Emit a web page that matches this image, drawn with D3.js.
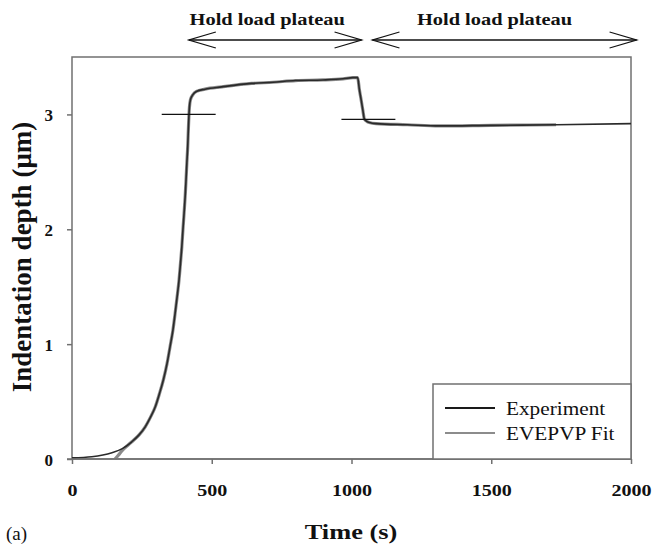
<!DOCTYPE html>
<meta charset="utf-8">
<html>
<head>
    <style>
        body { margin: 0; background: #fff; }
        .axis path, .axis line { stroke: #707070; stroke-width: 1.5px; }
        .axis text { font: bold 17px "Liberation Serif", serif; fill: #111; }
        .frame { fill: none; stroke: #707070; stroke-width: 1.5px; }
        .exp { fill: none; stroke: #2a2a2a; stroke-width: 1.6px; }
        .fit { fill: none; stroke: #8a8a8a; stroke-width: 3.2px; }
        .mark { stroke: #111; stroke-width: 1.2px; }
        .arrow { stroke: #111; stroke-width: 1.3px; fill: none; }
        .label { font-family: "Liberation Serif", serif; fill: #111; }
    </style>
    <script src="https://d3js.org/d3.v7.min.js"></script>
</head>
<body>
<svg id="svg" width="652" height="548"></svg>
<script>

    // experiment (s, um)
    var expTime = [0, 71, 143, 180, 214, 240, 262, 280, 298, 313, 327, 340, 351, 361, 369, 376, 383, 388, 393, 397,
        401, 405, 408, 411, 414, 416, 418, 420, 424, 432, 445, 476, 536, 643, 719, 800, 898, 970, 1005, 1022,
        1028, 1035, 1041, 1046, 1055, 1064, 1088, 1200, 1314, 1500, 1732, 2000];
    var expDepth = [0.01, 0.02, 0.055, 0.09, 0.15, 0.21, 0.28, 0.36, 0.455, 0.57, 0.69, 0.83, 0.98, 1.12, 1.27, 1.41, 1.56, 1.70, 1.85, 2.00,
        2.14, 2.29, 2.43, 2.58, 2.72, 2.85, 2.97, 3.06, 3.13, 3.17, 3.20, 3.22, 3.24, 3.27, 3.28, 3.295, 3.30, 3.31, 3.32, 3.32,
        3.22, 3.12, 3.03, 2.96, 2.94, 2.93, 2.92, 2.91, 2.90, 2.905, 2.91, 2.92];

    // EVEPVP fit
    var fitTime = [154, 165, 180, 200, 214, 240, 262, 280, 298, 313, 327, 340, 351, 361, 369, 376, 383, 388, 393, 397,
        401, 405, 408, 411, 414, 416, 418, 420, 424, 432, 445, 476, 536, 643, 719, 800, 898, 970, 1005, 1022,
        1028, 1035, 1041, 1046, 1055, 1064, 1088, 1200, 1314, 1500, 1732];
    var fitDepth = [0, 0.03, 0.075, 0.12, 0.15, 0.21, 0.28, 0.36, 0.455, 0.57, 0.69, 0.83, 0.98, 1.12, 1.27, 1.41, 1.56, 1.70, 1.85, 2.00,
        2.14, 2.29, 2.43, 2.58, 2.72, 2.85, 2.97, 3.06, 3.13, 3.17, 3.20, 3.22, 3.24, 3.27, 3.28, 3.295, 3.30, 3.31, 3.32, 3.32,
        3.22, 3.12, 3.03, 2.96, 2.94, 2.93, 2.92, 2.91, 2.90, 2.905, 2.91];

    var xTicks = [0, 500, 1000, 1500, 2000];
    var yTicks = [0, 1, 2, 3];

    // short horizontal markers [t0, t1, depth]
    var markers = [[321, 514, 3.0], [964, 1157, 2.957]];
    // hold load plateaus [t0, t1]
    var plateaus = [[418, 1036], [1075, 2020]];
    var plateauLabel = "Hold load plateau";

    var seriesNames = ["Experiment", "EVEPVP Fit"];

    var svg = d3.select("svg"),
        mLeft = 72, mRight = 631, mTop = 57, mBottom = 459;

    var x = d3.scaleLinear().domain([0, 2000]).range([mLeft, mRight]);
    var y = d3.scaleLinear().domain([0, 3.5]).range([mBottom, mTop]);

    svg.append("rect").attr("class", "frame")
        .attr("x", mLeft).attr("y", mTop).attr("width", mRight - mLeft).attr("height", mBottom - mTop);

    var line = d3.line()
        .x(function (d) { return x(d[0]); })
        .y(function (d) { return y(d[1]); })
        .curve(d3.curveMonotoneX);

    svg.append("path").attr("class", "fit")
        .attr("d", line(fitTime.map(function (t, i) { return [t, fitDepth[i]]; })));
    svg.append("path").attr("class", "exp")
        .attr("d", line(expTime.map(function (t, i) { return [t, expDepth[i]]; })));

    svg.selectAll(".mark").data(markers).enter().append("line")
        .attr("class", "mark")
        .attr("x1", function (d) { return x(d[0]); })
        .attr("x2", function (d) { return x(d[1]); })
        .attr("y1", function (d) { return y(d[2]); })
        .attr("y2", function (d) { return y(d[2]); });

    // axes
    var xAxis = svg.append("g").attr("class", "axis")
        .attr("transform", "translate(0," + mBottom + ")")
        .call(d3.axisBottom(x).tickValues(xTicks).tickFormat(d3.format("d"))
            .tickSize(5).tickSizeOuter(0).tickPadding(20));
    xAxis.selectAll("text").attr("transform", "scale(1.18,1)");

    var yAxis = svg.append("g").attr("class", "axis")
        .attr("transform", "translate(" + mLeft + ",0)")
        .call(d3.axisLeft(y).tickValues(yTicks).tickFormat(d3.format("d"))
            .tickSize(5).tickSizeOuter(0).tickPadding(14));
    yAxis.selectAll("text").attr("dy", "0.36em");
    yAxis.select(".domain").remove();
    xAxis.select(".domain").remove();
    svg.append("line").attr("class", "frame")
        .attr("x1", mLeft - 5).attr("x2", mRight).attr("y1", mBottom).attr("y2", mBottom);

    // axis titles
    svg.append("text").attr("class", "label")
        .attr("transform", "translate(351,539) scale(1.2,1)")
        .attr("text-anchor", "middle")
        .style("font-size", "22px").style("font-weight", "bold")
        .text("Time (s)");

    svg.append("text").attr("class", "label")
        .attr("transform", "translate(31,257) rotate(-90)")
        .attr("text-anchor", "middle")
        .style("font-size", "27px").style("font-weight", "bold")
        .text("Indentation depth (\u03bcm)");

    svg.append("text").attr("class", "label")
        .attr("x", 6).attr("y", 540)
        .style("font-size", "19px")
        .text("(a)");

    // plateau arrows
    var ay = 40;
    var arr = svg.selectAll(".plateau").data(plateaus).enter().append("g");
    arr.append("line").attr("class", "arrow")
        .attr("x1", function (d) { return x(d[0]); })
        .attr("x2", function (d) { return x(d[1]); })
        .attr("y1", ay).attr("y2", ay);
    arr.append("path").attr("class", "arrow")
        .attr("d", function (d) {
            var a = x(d[0]), b = x(d[1]);
            return "M" + (a + 27) + "," + (ay - 8) + "L" + a + "," + ay + "L" + (a + 27) + "," + (ay + 8)
                + "M" + (b - 27) + "," + (ay - 8) + "L" + b + "," + ay + "L" + (b - 27) + "," + (ay + 8);
        });
    arr.append("text").attr("class", "label")
        .attr("transform", function (d, i) {
            var cx = i === 0 ? (x(d[0]) + x(d[1])) / 2 - 8 : (x(d[0]) + x(d[1])) / 2 - 10;
            return "translate(" + cx + ",25) scale(1.2,1)";
        })
        .attr("text-anchor", "middle")
        .style("font-size", "17px").style("font-weight", "bold")
        .text(plateauLabel);

    // legend
    var lg = svg.append("g");
    lg.append("rect").attr("class", "frame").style("fill", "#fff")
        .attr("x", 433).attr("y", 384).attr("width", mRight - 433).attr("height", mBottom - 384);
    var items = lg.selectAll(".item").data(seriesNames).enter().append("g")
        .attr("transform", function (d, i) { return "translate(445," + (408 + i * 25) + ")"; });
    items.append("line")
        .attr("x1", 0).attr("x2", 50).attr("y1", 0).attr("y2", 0)
        .style("stroke", function (d, i) { return i === 0 ? "#1a1a1a" : "#666"; })
        .style("stroke-width", function (d, i) { return i === 0 ? 2 : 1.5; });
    items.append("text").attr("class", "label")
        .attr("transform", "translate(61,7) scale(1.12,1)")
        .style("font-size", "19px")
        .text(function (d) { return d; });

</script>
</body>
</html>
